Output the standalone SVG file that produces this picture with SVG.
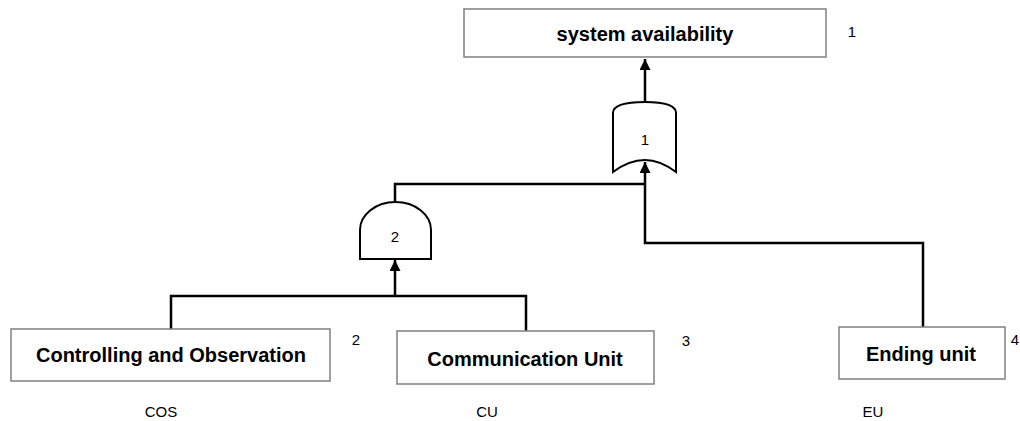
<svg xmlns="http://www.w3.org/2000/svg" width="1020" height="421" viewBox="0 0 1020 421">
<style>
.box{fill:#fff;stroke:#808080;stroke-width:1.5}
.gate{fill:#fff;stroke:#000;stroke-width:2}
.t{font-family:"Liberation Sans",Arial,sans-serif;font-weight:bold;font-size:20px;fill:#000;text-anchor:middle;dominant-baseline:central}
.s{font-family:"Liberation Sans",Arial,sans-serif;font-size:15px;fill:#000;text-anchor:middle;dominant-baseline:central}
.c{fill:none;stroke:#000;stroke-width:2.5}
</style>
<defs>
<marker id="ah" viewBox="0 0 10 10" refX="10" refY="5" markerWidth="4.4" markerHeight="4.4" markerUnits="strokeWidth" orient="auto">
<path d="M0,0 L10,5 L0,10 z" fill="#000"/>
</marker>
</defs>
<g id="connectors">
<path class="c" d="M645,102 V59" marker-end="url(#ah)"/>
<path class="c" d="M923,327 V243 H645 V162" marker-end="url(#ah)"/>
<path class="c" d="M395,202 V184 H645"/>
<path class="c" d="M171,329 V296 H526 V331"/>
<path class="c" d="M395,296 V260" marker-end="url(#ah)"/>
</g>
<g id="n-sys">
<rect class="box" x="464" y="9" width="362" height="48"/>
<text class="t" x="645" y="34">system availability</text>
<text class="s" x="852" y="31">1</text>
</g>
<g id="g-or">
<path class="gate" d="M613,172 V113 Q613,102 645,102 Q676,102 676,113 V172 Q660,160 645,160 Q629,160 613,172 Z"/>
<text class="s" x="645" y="139">1</text>
</g>
<g id="g-and">
<path class="gate" d="M360,259 V230 A35.5,28 0 0 1 431,230 V259 Z"/>
<text class="s" x="395" y="236">2</text>
</g>
<g id="n-cos">
<rect class="box" x="11" y="329" width="319" height="52"/>
<text class="t" x="171" y="355">Controlling and Observation</text>
<text class="s" x="356" y="339">2</text>
<text class="s" x="161" y="411">COS</text>
</g>
<g id="n-cu">
<rect class="box" x="397" y="331" width="257" height="53"/>
<text class="t" x="525" y="359">Communication Unit</text>
<text class="s" x="686" y="340">3</text>
<text class="s" x="487" y="411">CU</text>
</g>
<g id="n-eu">
<rect class="box" x="839" y="327" width="166" height="52"/>
<text class="t" x="921" y="354">Ending unit</text>
<text class="s" x="1015" y="339">4</text>
<text class="s" x="873" y="411">EU</text>
</g>
</svg>
